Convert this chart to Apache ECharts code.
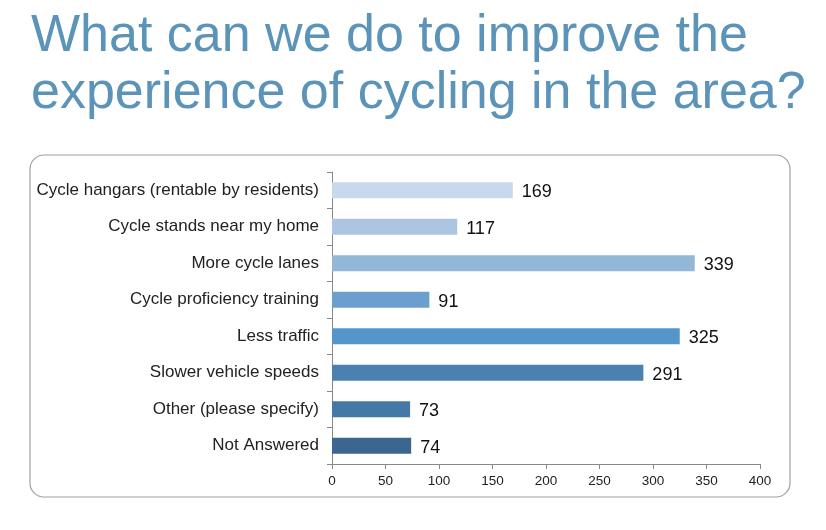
<!DOCTYPE html>
<html>
<head>
<meta charset="utf-8">
<script src="https://cdn.jsdelivr.net/npm/echarts@6/dist/echarts.min.js"></script>
<style>
  html, body { margin: 0; padding: 0; background: #fff; }
  #main { width: 826px; height: 530px; }
</style>
</head>
<body>
<div id="main"></div>
<script>
// survey answers, top to bottom
var categories = [
  'Cycle hangars (rentable by residents)',
  'Cycle stands near my home',
  'More cycle lanes',
  'Cycle proficiency training',
  'Less traffic',
  'Slower vehicle speeds',
  'Other (please specify)',
  'Not Answered'
]
var responses = [169, 117, 339, 91, 325, 291, 73, 74]
var barColors = ['#c9d9ec', '#abc5e2', '#92b7d7', '#6b9fcd', '#5596ca', '#4b81b1', '#4478a7', '#3b6690']

var chart = echarts.init(document.getElementById('main'))

var barData = []
for (var i in responses) {
  barData.push({ value: responses[i], itemStyle: { color: barColors[i] } })
}

var option = {
  animation: false,
  title: {
    text: 'What can we do to improve the\nexperience of cycling in the area?',
    left: 26,
    top: 3,
    textStyle: {
      fontFamily: 'Liberation Sans',
      fontWeight: 'normal',
      fontSize: 52,
      lineHeight: 57,
      color: '#5b94b8'
    }
  },
  graphic: [
    {
      type: 'rect',
      shape: { x: 30, y: 155, width: 760, height: 342, r: 14 },
      style: { fill: 'none', stroke: '#a0a0a0', lineWidth: 1.2 },
      z: -1
    }
  ],
  grid: {
    left: 332,
    right: 66,
    top: 172,
    bottom: 66,
    containLabel: false
  },
  xAxis: {
    type: 'value',
    min: 0,
    max: 400,
    interval: 50,
    splitLine: { show: false },
    axisLine: { show: true, lineStyle: { color: '#888' } },
    axisTick: { show: true, length: 5, lineStyle: { color: '#888' } },
    axisLabel: { color: '#222', fontSize: 13.5, fontFamily: 'Liberation Sans', margin: 10 }
  },
  yAxis: {
    type: 'category',
    data: categories,
    inverse: true,
    axisLine: { show: true, lineStyle: { color: '#888' } },
    axisTick: { show: true, length: 5, lineStyle: { color: '#888' } },
    axisLabel: { color: '#222', fontSize: 17, fontFamily: 'Liberation Sans', margin: 13 }
  },
  series: [
    {
      type: 'bar',
      data: barData,
      barWidth: 16,
      label: {
        show: true,
        position: 'right',
        distance: 9,
        offset: [0, 2],
        color: '#111',
        fontSize: 18,
        fontFamily: 'Liberation Sans'
      }
    }
  ]
}
chart.setOption(option)
</script>
</body>
</html>
